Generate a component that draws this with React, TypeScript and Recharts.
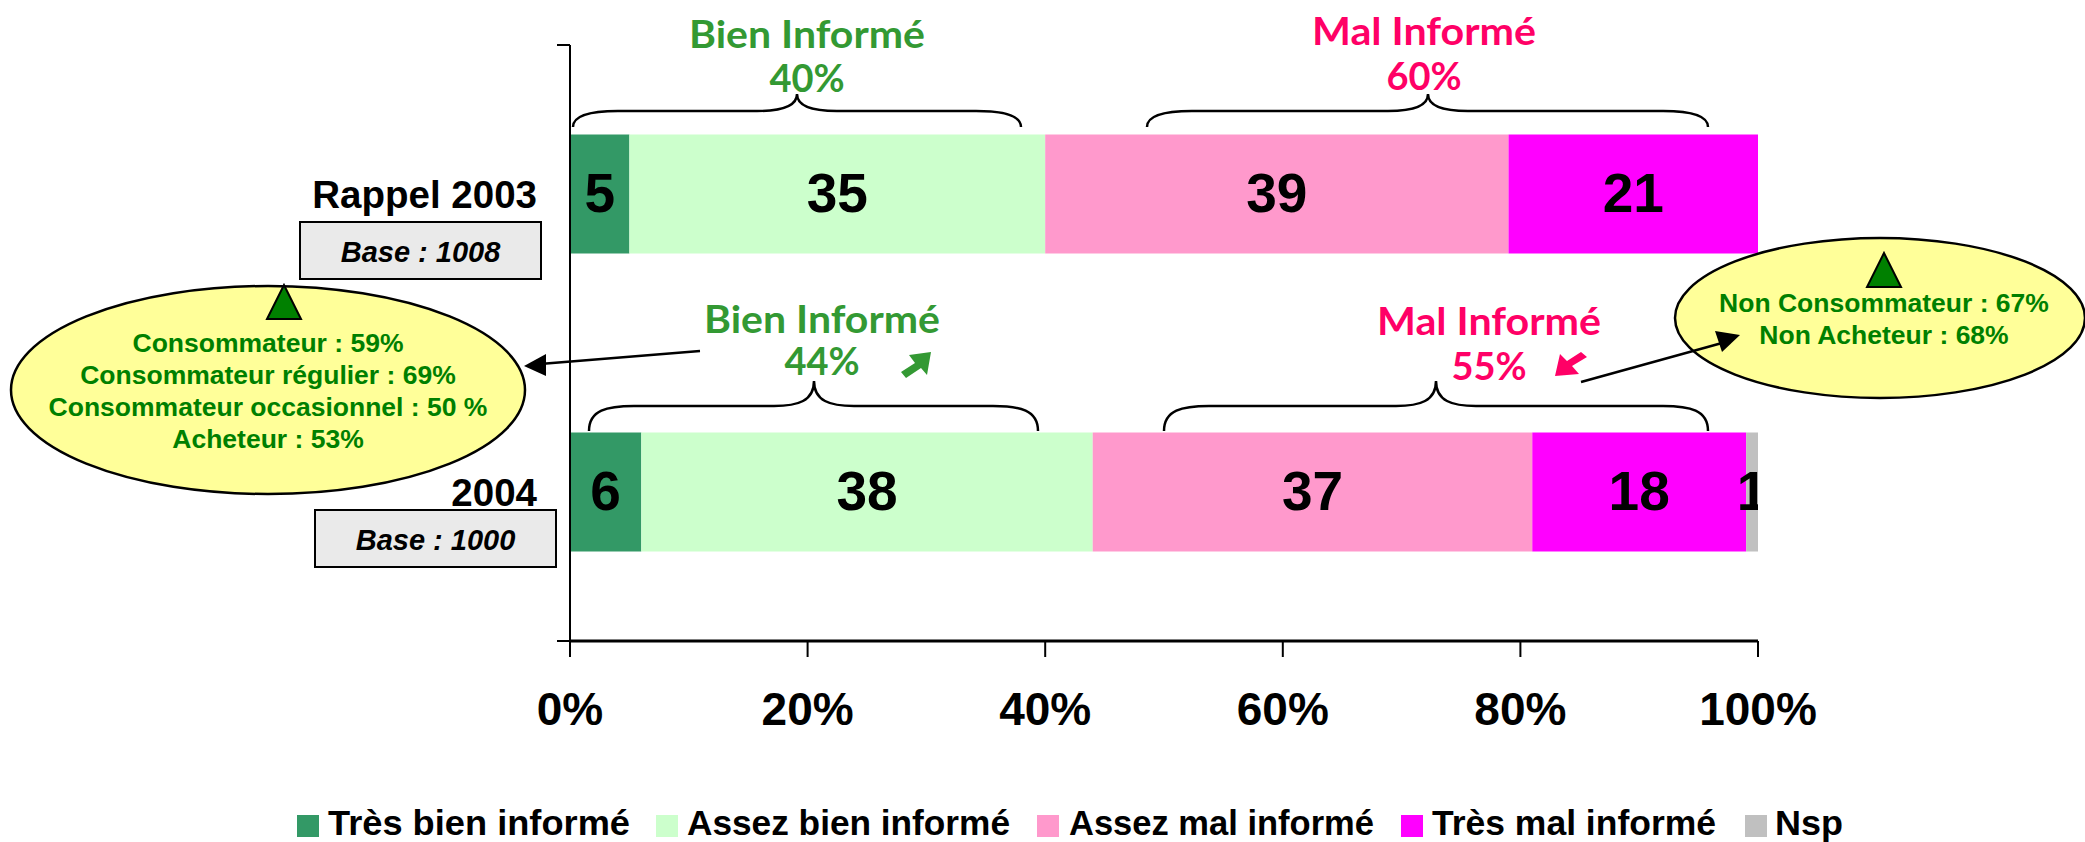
import { BarChart, Bar, XAxis, YAxis, Legend, LabelList } from 'recharts';

const categories = ['Rappel 2003', '2004'];
const tresBien = [5, 6];
const assezBien = [35, 38];
const assezMal = [39, 37];
const tresMal = [21, 18];
const nsp = [null, 1];
const percentTicks = [0, 20, 40, 60, 80, 100];
const bandEdges = [0, 1, 2];

const seriesNames = ['Très bien informé', 'Assez bien informé', 'Assez mal informé', 'Très mal informé', 'Nsp'];
const seriesColors = ['#339966', '#CCFFCC', '#FF99CC', '#FF00FF', '#C0C0C0'];
const seriesValues = [tresBien, assezBien, assezMal, tresMal, nsp];

const chartData = categories.map((name, i) => {
  const row: Record<string, string | number | null> = { name };
  seriesNames.forEach((s, j) => { row[s] = seriesValues[j][i]; });
  return row;
});

const consoLeft = ['Consommateur : 59%', 'Consommateur régulier : 69%', 'Consommateur occasionnel : 50 %', 'Acheteur : 53%'];
const consoRight = ['Non Consommateur : 67%', 'Non Acheteur : 68%'];

const SANS = '"Liberation Sans", Arial, sans-serif';
const HAND = 'Lato, "Noto Sans", sans-serif';
const GREEN = '#339933';
const PINK = '#FF0066';
const DARK_GREEN = '#008000';

// legend slots (its text widths are uneven)
const legendSwatchX = [297, 656, 1037, 1401, 1745];
const legendTextX = [328, 687, 1069, 1432, 1775];
const legendTextW = [302, 323, 305, 284, 68];

// the "1" of Nsp is cut at the end of the bar in the original
function BarValue(props: any) {
  const { x, y, width, height, value, index } = props;
  if (value == null) return null;
  const id = `clip-${index}-${Math.round(x)}`;
  return (
    <g>
      <clipPath id={id}><rect x={x - 60} y={y} width={width + 60} height={height} /></clipPath>
      <text
        x={x + width / 2}
        y={y + height / 2 - 1}
        dy="0.355em"
        textAnchor="middle"
        clipPath={`url(#${id})`}
        style={{ fontFamily: SANS, fontWeight: 700, fontSize: 55, fill: '#000' }}
      >
        {value}
      </text>
    </g>
  );
}

function LegendRow({ payload }: any) {
  return (
    <svg width={2085} height={40} style={{ display: 'block' }}>
      {(payload || []).map((p: any, i: number) => (
        <g key={p.value}>
          <rect x={legendSwatchX[i]} y={13} width={22} height={22} fill={p.color} />
          <text
            x={legendTextX[i]}
            y={32.5}
            textLength={legendTextW[i]}
            lengthAdjust="spacingAndGlyphs"
            style={{ fontFamily: SANS, fontWeight: 700, fontSize: 34.5, fill: '#000' }}
          >
            {p.value}
          </text>
        </g>
      ))}
    </svg>
  );
}

function Brace({ x1, x2, tip, top, mid, end }: { x1: number; x2: number; tip: number; top: number; mid: number; end: number }) {
  const d = `M${x1} ${end} C${x1} ${mid + 4} ${x1 + 18} ${mid} ${x1 + 45} ${mid} L${tip - 40} ${mid} C${tip - 16} ${mid} ${tip} ${mid - 5} ${tip} ${top}
    C${tip} ${mid - 5} ${tip + 16} ${mid} ${tip + 40} ${mid} L${x2 - 45} ${mid} C${x2 - 18} ${mid} ${x2} ${mid + 4} ${x2} ${end}`;
  return <path d={d} fill="none" stroke="#000" strokeWidth={2.5} />;
}

function TwoLines({ x, y1, y2, a, b, color, w }: { x: number; y1: number; y2: number; a: string; b: string; color: string; w: number }) {
  const st = { fontFamily: HAND, fontWeight: 700, fontSize: 38, fill: color };
  return (
    <g textAnchor="middle" style={st}>
      <text x={x} y={y1} dy="0.35em" textLength={w} lengthAdjust="spacingAndGlyphs">{a}</text>
      <text x={x} y={y2} dy="0.35em">{b}</text>
    </g>
  );
}

function BaseBox({ x, y, w, h, label }: { x: number; y: number; w: number; h: number; label: string }) {
  return (
    <g>
      <rect x={x} y={y} width={w} height={h} fill="#EAEAEA" stroke="#000" strokeWidth={2} />
      <text
        x={x + w / 2}
        y={y + h / 2 + 1}
        dy="0.355em"
        textAnchor="middle"
        style={{ fontFamily: SANS, fontWeight: 700, fontStyle: 'italic', fontSize: 29, fill: '#000' }}
      >
        {label}
      </text>
    </g>
  );
}

function Bubble({ cx, cy, rx, ry, apex, apexY, textX, lines, lineY }: { cx: number; cy: number; rx: number; ry: number; apex: number; apexY: number; textX: number; lines: string[]; lineY: number[] }) {
  return (
    <g>
      <ellipse cx={cx} cy={cy} rx={rx} ry={ry} fill="#FFFF99" stroke="#000" strokeWidth={2.5} />
      <polygon points={`${apex},${apexY} ${apex - 17},${apexY + 34} ${apex + 17},${apexY + 34}`} fill={DARK_GREEN} stroke="#000" strokeWidth={2} />
      {lines.map((l, i) => (
        <text
          key={l}
          x={textX}
          y={lineY[i]}
          dy="0.355em"
          textAnchor="middle"
          style={{ fontFamily: SANS, fontWeight: 700, fontSize: 26.5, fill: DARK_GREEN }}
        >
          {l}
        </text>
      ))}
    </g>
  );
}

function Annotations() {
  return (
    <svg width={2085} height={842} style={{ position: 'absolute', left: 0, top: 0, pointerEvents: 'none' }}>
      <TwoLines x={807} y1={35} y2={79} a="Bien Informé" b="40%" color={GREEN} w={236} />
      <TwoLines x={1424} y1={32} y2={77} a="Mal Informé" b="60%" color={PINK} w={224} />
      <TwoLines x={822} y1={320} y2={362} a="Bien Informé" b="44%" color={GREEN} w={236} />
      <TwoLines x={1489} y1={322} y2={367} a="Mal Informé" b="55%" color={PINK} w={224} />

      <Brace x1={573} x2={1021} tip={797} top={94} mid={111} end={127} />
      <Brace x1={1147} x2={1708} tip={1428} top={94} mid={111} end={127} />
      <Brace x1={589} x2={1038} tip={814} top={381} mid={406} end={431} />
      <Brace x1={1164} x2={1708} tip={1436} top={381} mid={406} end={431} />

      {/* small trend arrows */}
      <polygon points="931,352 909,355 915,363 901,372 906,378 921,368 927,375" fill={GREEN} />
      <polygon points="1555,376 1579,374 1572,366 1587,357 1581,352 1567,361 1560,354" fill={PINK} />

      <BaseBox x={300} y={222} w={241} h={57} label="Base : 1008" />
      <BaseBox x={315} y={510} w={241} h={57} label="Base : 1000" />

      <Bubble cx={268} cy={390} rx={257} ry={104} apex={284} apexY={285} textX={268} lines={consoLeft} lineY={[343, 375, 407, 439]} />
      <Bubble cx={1880} cy={318} rx={205} ry={80} apex={1884} apexY={253} textX={1884} lines={consoRight} lineY={[303, 335]} />

      {/* callout arrows */}
      <line x1={700} y1={351} x2={540} y2={364} stroke="#000" strokeWidth={2.5} />
      <polygon points="524,366 546,354 546,376" fill="#000" />
      <line x1={1581} y1={382} x2={1722} y2={343} stroke="#000" strokeWidth={2.5} />
      <polygon points="1740,335 1715,331 1722,352" fill="#000" />
    </svg>
  );
}

export default function App() {
  return (
    <div style={{ position: 'absolute', left: 0, top: 0, width: 2085, height: 842, overflow: 'hidden', background: '#fff', fontFamily: SANS }}>
      <BarChart
        width={2085}
        height={842}
        data={chartData}
        layout="vertical"
        barCategoryGap="30%"
        margin={{ top: 45, right: 327, bottom: 0, left: 0 }}
      >
        <XAxis
          type="number"
          domain={[0, 100]}
          ticks={percentTicks}
          interval={0}
          tickFormatter={(v: number) => `${v}%`}
          height={161}
          tickSize={16}
          tickMargin={35}
          axisLine={{ stroke: '#000', strokeWidth: 3 }}
          tickLine={{ stroke: '#000', strokeWidth: 2 }}
          tick={{ fontSize: 46, fontWeight: 700, fill: '#000' }}
        />
        {/* ticks sit between the two bars, so they come from a numeric axis of their own;
            axis ids are sorted, the lower one stays next to the plot */}
        <YAxis
          yAxisId={0}
          type="number"
          domain={[0, 2]}
          ticks={bandEdges}
          interval={0}
          width={1}
          tick={() => <g />}
          tickSize={13}
          axisLine={{ stroke: '#000', strokeWidth: 2 }}
          tickLine={{ stroke: '#000', strokeWidth: 2 }}
        />
        <YAxis
          yAxisId={1}
          type="category"
          dataKey="name"
          width={569}
          axisLine={false}
          tickLine={false}
          tickSize={0}
          tickMargin={32}
          tick={{ fontSize: 38.5, fontWeight: 700, fill: '#000' }}
        />
        <Legend
          height={40}
          align="left"
          verticalAlign="bottom"
          itemSorter={null}
          wrapperStyle={{ left: 0, bottom: 0, width: 2085 }}
          content={LegendRow}
        />
        {seriesNames.map((s, i) => (
          <Bar key={s} yAxisId={1} dataKey={s} stackId="a" fill={seriesColors[i]} isAnimationActive={false}>
            <LabelList dataKey={s} content={BarValue} />
          </Bar>
        ))}
      </BarChart>
      <Annotations />
    </div>
  );
}
